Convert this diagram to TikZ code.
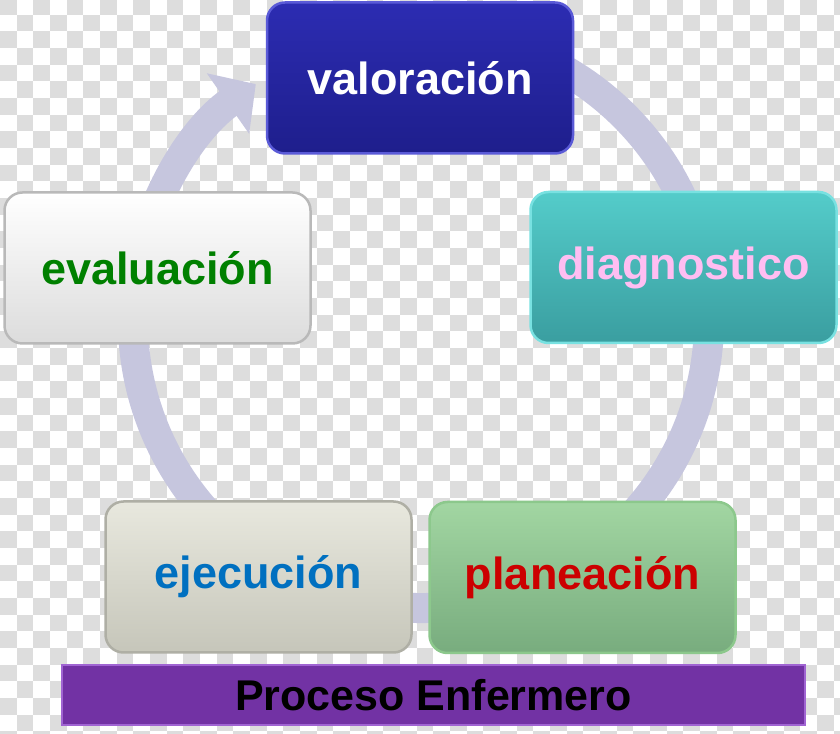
\documentclass[tikz,border=0pt]{standalone}
\usepackage{fontspec}
\setmainfont{Liberation Sans}
\usetikzlibrary{arrows.meta}

\definecolor{cuadro}{RGB}{221,221,221}
\definecolor{anillo}{RGB}{198,198,222}
\definecolor{azulA}{RGB}{44,44,178}
\definecolor{azulB}{RGB}{30,30,140}
\definecolor{azulR}{RGB}{90,90,215}
\definecolor{tealA}{RGB}{84,204,202}
\definecolor{tealB}{RGB}{58,158,160}
\definecolor{tealR}{RGB}{120,225,225}
\definecolor{rosa}{RGB}{255,190,242}
\definecolor{verdeA}{RGB}{162,214,162}
\definecolor{verdeB}{RGB}{120,172,126}
\definecolor{verdeR}{RGB}{140,200,140}
\definecolor{rojo}{RGB}{204,0,0}
\definecolor{grisA}{RGB}{232,232,222}
\definecolor{grisB}{RGB}{198,198,186}
\definecolor{grisR}{RGB}{175,175,165}
\definecolor{azulT}{RGB}{0,112,192}
\definecolor{blancoB}{RGB}{220,220,220}
\definecolor{blancoR}{RGB}{185,185,185}
\definecolor{verdeT}{RGB}{0,128,0}
\definecolor{morado}{RGB}{114,50,164}
\definecolor{moradoR}{RGB}{160,100,210}

\begin{document}
\begin{tikzpicture}[x=1pt,y=1pt,
  paso/.style={rounded corners=18pt, minimum width=306pt, minimum height=151pt,
    inner sep=0pt, line width=2.5pt, font=\bfseries\fontsize{45}{54}\selectfont},
  barra/.style={fill=morado, draw=moradoR, line width=2pt, minimum width=743pt,
    minimum height=60pt, inner sep=0pt, font=\bfseries\fontsize{43}{50}\selectfont}]
\useasboundingbox (0,0) rectangle (840,733);
\fill[white] (0,0) rectangle (840,733);
\begin{scope}
\clip (0,0) rectangle (840,733);
\foreach \i in {0,2,...,50}
  \foreach \j in {0,2,...,44} {
    \fill[cuadro] ({\i*16.67},{735-\j*16.67}) rectangle +(16.67,-16.67);
    \fill[cuadro] ({(\i+1)*16.67},{735-(\j+1)*16.67}) rectangle +(16.67,-16.67);
  }
\end{scope}

% ciclo
\draw[anillo, line width=30pt, -{Triangle[width=72pt,length=34pt]}]
  (421,413) ++(80:288) arc[start angle=80, end angle=-235, radius=288];

\node[paso, top color=azulA, bottom color=azulB, draw=azulR, text=white]
  (valoracion) at (420,655) {valoración};
\node[paso, top color=tealA, bottom color=tealB, draw=tealR, text=rosa]
  (diagnostico) at (683.5,465.5) {diagnostico};
\node[paso, top color=verdeA, bottom color=verdeB, draw=verdeR, text=rojo]
  (planeacion) at (582.5,155.5) {planeación};
\node[paso, top color=grisA, bottom color=grisB, draw=grisR, text=azulT]
  (ejecucion) at (258.5,156) {ejecución};
\node[paso, top color=white, bottom color=blancoB, draw=blancoR, text=verdeT]
  (evaluacion) at (157.5,465) {evaluación};

\node[barra] (proceso) at (433.5,38) {Proceso Enfermero};
\end{tikzpicture}
\end{document}
